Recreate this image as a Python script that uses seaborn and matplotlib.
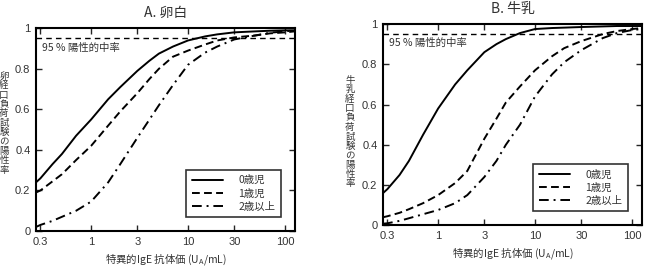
import numpy as np
import pandas as pd
import matplotlib
matplotlib.use("Agg")
import matplotlib.pyplot as plt
import seaborn as sns

# ----------------------------- data ------------------------------------
x_ige = [0.27, 0.3, 0.4, 0.5, 0.7, 1, 1.5, 2, 3, 4, 5, 7, 10, 15, 20, 30, 50, 70, 100, 127]

egg_age0 = [0.24, 0.26, 0.33, 0.38, 0.47, 0.55, 0.65, 0.71, 0.79, 0.84, 0.875, 0.91, 0.94, 0.96, 0.97, 0.98, 0.985, 0.988, 0.99, 0.99]
egg_age1 = [0.19, 0.20, 0.245, 0.28, 0.35, 0.42, 0.52, 0.59, 0.68, 0.75, 0.80, 0.86, 0.89, 0.92, 0.94, 0.955, 0.965, 0.975, 0.98, 0.985]
egg_age2 = [0.02, 0.03, 0.05, 0.07, 0.10, 0.145, 0.24, 0.33, 0.46, 0.55, 0.62, 0.72, 0.82, 0.88, 0.91, 0.945, 0.965, 0.978, 0.985, 0.99]

milk_age0 = [0.16, 0.18, 0.25, 0.32, 0.45, 0.58, 0.70, 0.77, 0.86, 0.90, 0.925, 0.955, 0.975, 0.98, 0.982, 0.985, 0.988, 0.99, 0.99, 0.99]
milk_age1 = [0.04, 0.045, 0.062, 0.08, 0.11, 0.15, 0.21, 0.27, 0.43, 0.53, 0.61, 0.69, 0.77, 0.84, 0.88, 0.915, 0.95, 0.965, 0.975, 0.98]
milk_age2 = [0.008, 0.01, 0.022, 0.035, 0.055, 0.076, 0.11, 0.15, 0.24, 0.32, 0.40, 0.50, 0.64, 0.75, 0.81, 0.87, 0.93, 0.955, 0.97, 0.975]

age_labels = ["0歳児", "1歳児", "2歳以上"]
ppv_level = 0.95
ppv_text = "95 % 陽性的中率"
x_ticks = [0.3, 1, 3, 10, 30, 100]
x_ticklabels = ["0.3", "1", "3", "10", "30", "100"]
y_ticks = [0, 0.2, 0.4, 0.6, 0.8, 1]
y_ticklabels = ["0", "0.2", "0.4", "0.6", "0.8", "1"]

panels = [
    ("A. 卵白", "卵経口負荷試験の陽性率", [egg_age0, egg_age1, egg_age2]),
    ("B. 牛乳", "牛乳経口負荷試験の陽性率", [milk_age0, milk_age1, milk_age2]),
]

# ----------------------------- style -----------------------------------
sns.set_style("ticks")
plt.rcParams["font.family"] = ["Liberation Sans", "Noto Sans CJK JP", "DejaVu Sans"]
TXT = "#333333"
CJK = "Noto Sans CJK JP"

DASHES = {age_labels[0]: "", age_labels[1]: (4, 2.2), age_labels[2]: (5, 2.5, 1, 2.5)}

fig = plt.figure(figsize=(6.46, 2.67), dpi=100)
ax_pos = [
    [36 / 646, 1 - 231 / 267, 259 / 646, 202.7 / 267],
    [383 / 646, 1 - 225.3 / 267, 259 / 646, 201.3 / 267],
]
ylabel_xy = [(4 / 646, 1 - 123 / 267), (350 / 646, 1 - 132 / 267)]

for i, (title, ylab, series) in enumerate(panels):
    ax = fig.add_axes(ax_pos[i])
    rows = []
    for lab, vals in zip(age_labels, series):
        for xv, yv in zip(x_ige, vals):
            rows.append({"ige": xv, "rate": yv, "age": lab})
    df = pd.DataFrame(rows)

    sns.lineplot(
        data=df, x="ige", y="rate", style="age", style_order=age_labels,
        dashes=DASHES, color="black", linewidth=1.4, ax=ax, legend=True,
        estimator=None, sort=False,
    )
    ax.axhline(ppv_level, color="black", linewidth=1.0, linestyle=(0, (4, 3)))
    ax.text(0.315, 0.905, ppv_text, fontsize=7.5, color=TXT, va="center", ha="left",
            family=CJK)

    ax.set_xscale("log")
    ax.set_xlim(0.27, 127)
    ax.set_ylim(0, 1)
    ax.set_xticks(x_ticks)
    ax.set_xticklabels(x_ticklabels)
    ax.set_yticks(y_ticks)
    ax.set_yticklabels(y_ticklabels)
    ax.minorticks_off()
    ax.tick_params(direction="in", length=4, width=1, top=True, right=True,
                   labelsize=8, labelcolor=TXT, pad=4)
    for sp in ax.spines.values():
        sp.set_visible(True)
        sp.set_linewidth(1.5)
        sp.set_color("black")

    ax.set_title(title, fontsize=10, color=TXT, pad=8, family=CJK)
    ax.set_xlabel("特異的IgE 抗体価 (U$_\\mathregular{A}$/mL)", fontsize=7.5, color=TXT,
                  labelpad=4, family=CJK)
    ax.set_ylabel("")
    fig.text(ylabel_xy[i][0], ylabel_xy[i][1], "\n".join(ylab), family=CJK,
             fontsize=6.8, color=TXT, ha="center", va="center", linespacing=1.05)

    leg = ax.legend(loc="lower right", bbox_to_anchor=(0.965, 0.044),
                    prop={"family": CJK, "size": 7.5},
                    frameon=True, fancybox=False, edgecolor="black", handlelength=3.0,
                    handletextpad=1.5, borderpad=0.5, labelspacing=0.3, title=None)
    leg.get_frame().set_linewidth(1.2)
    for t in leg.get_texts():
        t.set_color(TXT)

fig.savefig("out.png", dpi=100)
